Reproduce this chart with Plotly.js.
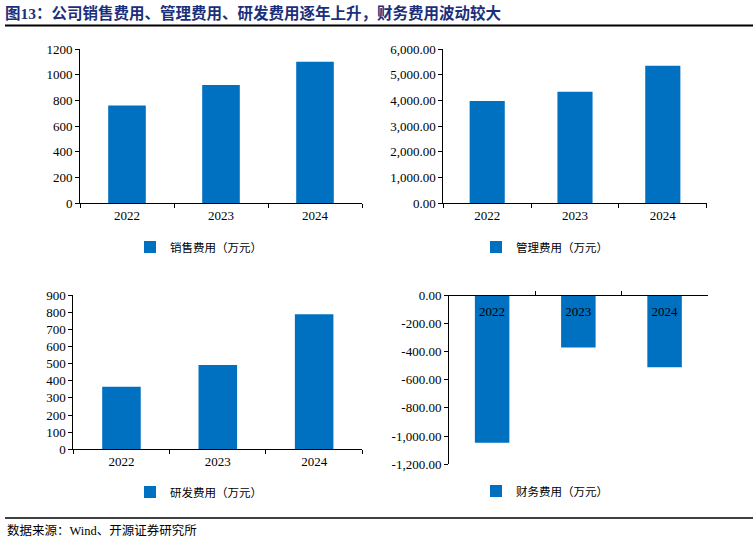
<!DOCTYPE html>
<html>
<head>
<meta charset="utf-8">
<script src="https://cdn.plot.ly/plotly-3.0.1.min.js"></script>
<style>html,body{margin:0;padding:0;background:#fff;}#chart{width:756px;height:544px;}</style>
</head>
<body>
<div id="chart"></div>
<script>
var years = ['2022', '2023', '2024'];
var salesExp = [760, 920, 1100];
var adminExp = [3980, 4340, 5350];
var rdExp = [365, 492, 787];
var finExp = [-1047, -373, -512];
var finTickVals = [0, -200, -400, -600, -800, -1000, -1200];
var finTickText = ['0.00', '-200.00', '-400.00', '-600.00', '-800.00', '-1,000.00', '-1,200.00'];
var seriesNames = ['销售费用（万元）', '管理费用（万元）', '研发费用（万元）', '财务费用（万元）'];

var W = 756, H = 544;
function px(a, b) { return [a / W, b / W]; }
function py(top, bottom) { return [1 - bottom / H, 1 - top / H]; }

var barColor = '#0070C0';
var numFont = { family: 'Liberation Serif, Times New Roman, serif', size: 13, color: '#000' };
var cjkFont = { family: 'Noto Sans CJK SC, sans-serif', size: 11.5, color: '#000' };

function bar(y, name, xa, ya, lg) {
  return {
    type: 'bar', x: years, y: y, name: name, xaxis: xa, yaxis: ya, legend: lg,
    marker: { color: barColor, line: { width: 0 } }, showlegend: true, hoverinfo: 'x+y'
  };
}

var data = [
  bar(salesExp, seriesNames[0], 'x', 'y', 'legend'),
  bar(adminExp, seriesNames[1], 'x2', 'y2', 'legend2'),
  bar(rdExp, seriesNames[2], 'x3', 'y3', 'legend3'),
  bar(finExp, seriesNames[3], 'x4', 'y4', 'legend4')
];

function xax(dom, anchor, extra) {
  var o = {
    domain: dom, anchor: anchor, type: 'category', showline: true, linecolor: '#000', linewidth: 1,
    ticks: 'outside', tickson: 'boundaries', ticklen: 4, tickcolor: '#000', showgrid: false,
    zeroline: false, tickfont: numFont, fixedrange: true
  };
  for (var k in extra) o[k] = extra[k];
  return o;
}
function yax(dom, anchor, extra) {
  var o = {
    domain: dom, anchor: anchor, showline: true, linecolor: '#000', linewidth: 1,
    ticks: 'outside', ticklen: 4, tickcolor: '#000', showgrid: false, zeroline: false,
    tickfont: numFont, fixedrange: true
  };
  for (var k in extra) o[k] = extra[k];
  return o;
}
function leg(x, y) {
  return { x: x / W, y: 1 - y / H, xanchor: 'left', yanchor: 'middle', xref: 'paper', yref: 'paper',
    bgcolor: 'rgba(0,0,0,0)', font: cjkFont, orientation: 'h' };
}

var layout = {
  width: W, height: H,
  margin: { l: 0, r: 0, t: 0, b: 0 },
  paper_bgcolor: '#fff', plot_bgcolor: 'rgba(0,0,0,0)',
  bargap: 0.6,
  title: {
    text: '<b>图13：公司销售费用、管理费用、研发费用逐年上升，财务费用波动较大</b>',
    x: 5 / W, xanchor: 'left', y: 1 - 14 / H, yanchor: 'middle',
    font: { family: 'Liberation Serif, Noto Sans CJK SC, serif', size: 15.5, color: '#1c2f7a' }
  },
  xaxis: xax(px(80, 362), 'y', {}),
  yaxis: yax(py(49, 203.3), 'x', { range: [0, 1200], dtick: 200, tickformat: 'd' }),
  xaxis2: xax(px(443.3, 706.7), 'y2', {}),
  yaxis2: yax(py(49, 203.3), 'x2', { range: [0, 6000], dtick: 1000, tickformat: ',.2f' }),
  xaxis3: xax(px(73.3, 362.3), 'y3', {}),
  yaxis3: yax(py(295, 449.3), 'x3', { range: [0, 900], dtick: 100, tickformat: 'd' }),
  xaxis4: xax(px(449, 707.7), 'free', { side: 'bottom', position: 1 - 295 / H, ticks: 'inside', ticklabelstandoff: 4 }),
  yaxis4: yax(py(295, 464.3), 'x4', { range: [-1200, 0], tickvals: finTickVals, ticktext: finTickText }),
  legend: leg(130, 247),
  legend2: leg(476, 247),
  legend3: leg(130, 492),
  legend4: leg(476, 491),
  shapes: [
    { type: 'line', xref: 'paper', yref: 'paper', x0: 5 / W, x1: 753 / W, y0: 1 - 25.5 / H, y1: 1 - 25.5 / H, line: { color: '#000', width: 1.8 } },
    { type: 'line', xref: 'paper', yref: 'paper', x0: 5 / W, x1: 753 / W, y0: 1 - 518 / H, y1: 1 - 518 / H, line: { color: '#000', width: 1.3 } }
  ],
  annotations: [
    { text: '数据来源：Wind、开源证券研究所', xref: 'paper', yref: 'paper', x: 5 / W, y: 1 - 530 / H,
      xanchor: 'left', yanchor: 'middle', showarrow: false,
      font: { family: 'Liberation Serif, Noto Sans CJK SC, serif', size: 12.5, color: '#000' } }
  ]
};

Plotly.newPlot('chart', data, layout, { displayModeBar: false, staticPlot: true });
</script>
</body>
</html>
